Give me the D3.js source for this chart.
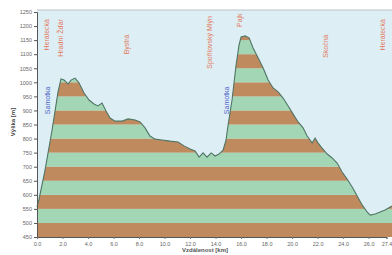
<!DOCTYPE html>
<html>
<head>
<meta charset="utf-8">
<script src="https://cdn.jsdelivr.net/npm/d3@7"></script>
<style>
  body { margin: 0; background: #fff; }
  svg { display: block; font-family: "Liberation Sans", Arial, sans-serif; }
</style>
</head>
<body>
<script>
// distance along the route [km] and elevation [m]
const distances = [0.0, 0.16, 0.63, 1.18, 1.65, 1.88, 2.12, 2.43, 2.67, 2.98, 3.29, 3.69, 4.08, 4.47, 4.78, 5.10,
  5.41, 5.73, 6.12, 6.67, 7.14, 7.69, 8.08, 8.47, 8.86, 9.25, 9.80, 10.43, 11.06, 11.53, 12.0, 12.39, 12.71,
  13.02, 13.33, 13.65, 13.96, 14.27, 14.59, 14.82, 14.98, 15.29, 15.61, 15.84, 16.0, 16.31, 16.63, 16.94,
  17.33, 17.73, 18.12, 18.51, 18.90, 19.29, 19.69, 20.08, 20.47, 20.86, 21.18, 21.41, 21.57, 21.80, 22.04,
  22.35, 22.75, 23.14, 23.53, 23.92, 24.31, 24.71, 25.10, 25.49, 25.88, 26.12, 26.51, 26.90, 27.29, 27.69, 28.08];
const elevations = [557, 585, 688, 830, 966, 1012, 1008, 994, 1008, 1015, 998, 962, 937, 923, 916, 926,
  898, 873, 862, 862, 870, 866, 859, 838, 809, 798, 795, 791, 788, 774, 763, 756, 734,
  749, 734, 749, 738, 745, 759, 795, 848, 937, 1062, 1133, 1161, 1165, 1158, 1122,
  1087, 1051, 1008, 980, 966, 944, 916, 887, 859, 838, 809, 795, 784, 802, 784,
  766, 745, 731, 713, 681, 656, 628, 596, 564, 539, 528, 532, 539, 546, 557, 564];

const yTicks = d3.range(450, 1251, 50);
const xTicks = [0, 2, 4, 6, 8, 10, 12, 14, 16, 18, 20, 22, 24, 26, 27.4];

// places along the route
const placeNames = ['Herálecká', 'Hradní Žďár', 'Bystrá', 'Spořilovský Mlýn', 'Pajk', 'Skočná', 'Herálecká'];
const placeKm = [0.75, 1.85, 7.0, 13.55, 15.85, 22.65, 27.1];
const placeTop = [1225, 1225, 1170, 1235, 1245, 1170, 1225];
const stopNames = ['Samotka', 'Samotka'];
const stopKm = [0.8, 14.85];

const W = 392, H = 255;
const margin = {left: 37, top: 10, bottom: 237};

const x = d3.scaleLinear().domain([0, 27.4]).range([37, 386.5]);
const y = d3.scaleLinear().domain([450, 1250]).range([237, 12]);

const svg = d3.select('body').append('svg')
  .attr('width', W)
  .attr('height', H);

const plotRight = x(28.2);

svg.append('rect')
  .attr('x', margin.left)
  .attr('y', margin.top)
  .attr('width', plotRight - margin.left)
  .attr('height', margin.bottom - margin.top)
  .attr('fill', '#deeef5');

const points = distances.map((d, i) => [d, elevations[i]]);

const area = d3.area()
  .x(d => x(d[0]))
  .y0(y(450))
  .y1(d => y(d[1]));

svg.append('clipPath')
  .attr('id', 'ground')
  .append('path')
    .attr('d', area(points));

// elevation bands, 50 m each
svg.append('g')
  .attr('clip-path', 'url(#ground)')
  .selectAll('rect')
  .data(yTicks.slice(0, -1))
  .join('rect')
    .attr('x', margin.left)
    .attr('width', plotRight - margin.left)
    .attr('y', d => y(d + 50))
    .attr('height', d => y(d) - y(d + 50))
    .attr('fill', (d, i) => i % 2 === 0 ? '#bf8b5e' : '#a2d6b4');

svg.append('path')
  .attr('d', d3.line().x(d => x(d[0])).y(d => y(d[1]))(points))
  .attr('fill', 'none')
  .attr('stroke', '#4f7566')
  .attr('stroke-width', 1.1);

// frame
svg.append('line')
  .attr('x1', margin.left).attr('x2', plotRight)
  .attr('y1', margin.top).attr('y2', margin.top)
  .attr('stroke', '#b9c2c6');

const yAxis = svg.append('g')
  .attr('transform', `translate(${margin.left},0)`)
  .call(d3.axisLeft(y).tickValues(yTicks).tickFormat(d3.format('d')).tickSize(3).tickPadding(2));
yAxis.select('.domain').attr('stroke', '#555');
yAxis.selectAll('.tick line').attr('stroke', '#555');
yAxis.selectAll('text').attr('font-size', 5.5).attr('fill', '#666');

const xAxis = svg.append('g')
  .attr('transform', `translate(0,${margin.bottom})`)
  .call(d3.axisBottom(x).tickValues(xTicks).tickFormat(d3.format('.1f')).tickSize(2).tickPadding(3));
xAxis.select('.domain').attr('stroke', '#555');
xAxis.selectAll('.tick line').attr('stroke', '#777');
xAxis.selectAll('text').attr('font-size', 5.5).attr('fill', '#666');

svg.append('text')
  .attr('x', 205).attr('y', 252)
  .attr('text-anchor', 'middle')
  .attr('font-size', 6).attr('font-weight', 'bold').attr('fill', '#555')
  .text('Vzdálenost [km]');

svg.append('text')
  .attr('transform', 'translate(15,122) rotate(-90)')
  .attr('text-anchor', 'middle')
  .attr('font-size', 6).attr('font-weight', 'bold').attr('fill', '#444')
  .text('Výška [m]');

// place labels, vertical
svg.append('g')
  .selectAll('text')
  .data(placeNames)
  .join('text')
    .attr('transform', (d, i) => `translate(${x(placeKm[i]) + 2.5},${y(placeTop[i])}) rotate(-90)`)
    .attr('text-anchor', 'end')
    .attr('font-size', 7)
    .attr('fill', '#e27a5c')
    .text(d => d);

svg.append('g')
  .selectAll('text')
  .data(stopNames)
  .join('text')
    .attr('transform', (d, i) => `translate(${x(stopKm[i]) + 2.5},${y(985)}) rotate(-90)`)
    .attr('text-anchor', 'end')
    .attr('font-size', 7)
    .attr('fill', '#4a5fc8')
    .text(d => d);
</script>
</body>
</html>
